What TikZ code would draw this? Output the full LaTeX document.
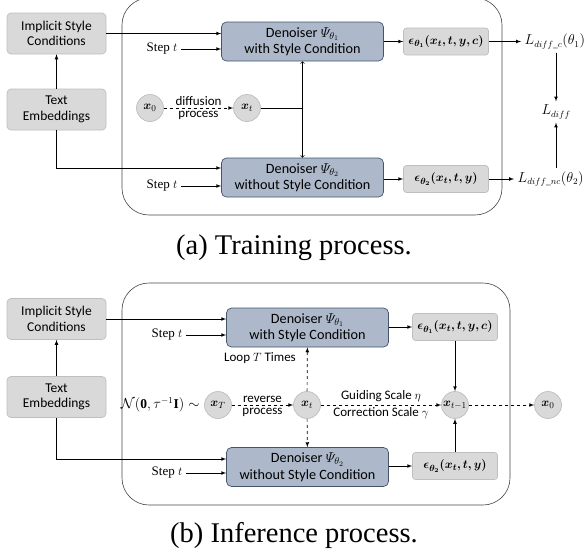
\documentclass[tikz,border=0pt]{standalone}
\usepackage{amsmath}
\usepackage{amssymb}
\usepackage{bm}
\usepackage{fontspec}
\setmainfont{Liberation Serif}
\newfontfamily\boxfont{Carlito}
\usetikzlibrary{positioning}
\usetikzlibrary{arrows}

\definecolor{denofill}{RGB}{173,185,202}
\definecolor{denoedge}{RGB}{68,84,106}
\definecolor{boxfill}{RGB}{217,217,217}
\definecolor{boxedge}{RGB}{191,191,191}
\definecolor{frameedge}{RGB}{70,70,70}

\begin{document}
\begin{tikzpicture}[x=1pt,y=-1pt,
		condbox/.style={
			draw=boxedge,
			fill=boxfill,
			rounded corners=4pt,
			align=center,
			minimum width=99pt,
			minimum height=41pt,
			font=\boxfont\fontsize{13.5}{15.5}\selectfont,
		},
		denoiser/.style={
			draw=denoedge,
			fill=denofill,
			rounded corners=5pt,
			align=center,
			minimum width=162pt,
			minimum height=39pt,
			inner sep=1pt,
			font=\boxfont\fontsize{14.2}{16.5}\selectfont,
		},
		epsbox/.style={
			draw=boxedge,
			fill=boxfill,
			rounded corners=3pt,
			minimum width=85pt,
			minimum height=27pt,
			font=\fontsize{12.5}{14}\selectfont,
		},
		state/.style={circle, draw=boxedge, fill=boxfill, minimum size=27pt, inner sep=0pt,
			font=\fontsize{12.5}{14}\selectfont},
		small/.style={font=\boxfont\fontsize{13}{14}\selectfont, inner sep=1pt},
		steplabel/.style={font=\fontsize{13}{15}\selectfont},
		losslabel/.style={font=\fontsize{13.5}{15}\selectfont},
		arr/.style={-latex, line width=0.7pt},
		panel/.style={draw=frameedge, line width=0.6pt, rounded corners=27pt},
		caption/.style={font=\fontsize{28.5}{32}\selectfont},
		line width=0.7pt]
		\useasboundingbox (0,0) rectangle (584,557);

		% (a) training
		\draw[panel] (122,-2) rectangle (502,215);
		\node[condbox] (a-isc) at (56.5,33.5) {Implicit Style\\Conditions};
		\node[condbox] (a-te) at (56.5,109.5) {Text\\Embeddings};
		\node[denoiser] (a-d1) at (302.5,41.5) {Denoiser $\varPsi_{\theta_1}$\\with Style Condition};
		\node[denoiser] (a-d2) at (302.5,177.5) {Denoiser $\varPsi_{\theta_2}$\\without Style Condition};
		\node[epsbox] (a-e1) at (446,41.5) {$\boldsymbol{\epsilon_{\theta_1}(x_t, t, y, c)}$};
		\node[epsbox] (a-e2) at (446,179) {$\boldsymbol{\epsilon_{\theta_2}(x_t, t, y)}$};
		\node[state] (a-x0) at (150,108) {$\bm{x}_0$};
		\node[state] (a-xt) at (247,108) {$\bm{x}_t$};
		\coordinate (a-j) at (302.5,108);
		\node[steplabel] (a-s1) at (162,49) {Step $t$};
		\node[steplabel] (a-s2) at (162,186) {Step $t$};
		\node[losslabel, anchor=west] (a-lc) at (521,41.5) {$L_{diff\_c}(\theta_1)$};
		\node[losslabel] (a-l) at (556,112) {$L_{diff}$};
		\node[losslabel, anchor=west] (a-lnc) at (514,179) {$L_{diff\_nc}(\theta_2)$};

		\draw[arr] (a-te) -- (a-isc);
		\draw[arr] (a-isc.east) -- ([yshift=8pt]a-d1.west);
		\draw[arr] (a-te.south) |- ([yshift=9.5pt]a-d2.west);
		\draw[arr] (a-s1) -- (a-s1 -| a-d1.west);
		\draw[arr] (a-s2) -- (a-s2 -| a-d2.west);
		\draw[arr, dashed] (a-x0) -- node[above=1.5pt, small]{diffusion} node[below=1.5pt, small]{process} (a-xt);
		\draw (a-xt) -- (a-j);
		\draw[to-to] (a-d1.south) -- (a-d2.north);
		\draw[arr] (a-d1) -- (a-e1);
		\draw[arr] (a-d2.east |- a-e2) -- (a-e2);
		\draw[arr] (a-e1) -- (a-lc);
		\draw[arr] (a-e2) -- (a-lnc);
		\draw[arr] (a-l |- a-lc.south) -- (a-l);
		\draw[arr] (a-l |- a-lnc.north) -- (a-l);

		\node[caption] (a-cap) at (294,248) {(a) Training process.};

		% (b) inference
		\draw[panel] (122,283) rectangle (510,505);
		\node[condbox] (b-isc) at (56.5,319) {Implicit Style\\Conditions};
		\node[condbox] (b-te) at (56.5,397) {Text\\Embeddings};
		\node[denoiser] (b-d1) at (307.5,327.5) {Denoiser $\varPsi_{\theta_1}$\\with Style Condition};
		\node[denoiser] (b-d2) at (307.5,467) {Denoiser $\varPsi_{\theta_2}$\\without Style Condition};
		\node[epsbox] (b-e1) at (455,327) {$\boldsymbol{\epsilon_{\theta_1}(x_t, t, y, c)}$};
		\node[epsbox] (b-e2) at (455,466) {$\boldsymbol{\epsilon_{\theta_2}(x_t, t, y)}$};
		\node[state] (b-xT) at (218,405) {$\bm{x}_T$};
		\node[state] (b-xt) at (307,405) {$\bm{x}_t$};
		\node[state] (b-xt1) at (455,405) {$\bm{x}_{t-1}$};
		\node[state] (b-x0) at (548,405) {$\bm{x}_0$};
		\node[losslabel, left=1pt of b-xT] (b-noise) {$\mathcal{N}(\mathbf{0},\tau^{-1}\mathbf{I})\sim$};
		\node[small] (b-loop) at (260,358) {Loop $T$ Times};
		\node[steplabel] (b-s1) at (167,335) {Step $t$};
		\node[steplabel] (b-s2) at (167,473) {Step $t$};

		\draw[arr] (b-te) -- (b-isc);
		\draw[arr] (b-isc.east) -- ([yshift=8.5pt]b-d1.west);
		\draw[arr] (b-te.south) |- ([yshift=8pt]b-d2.west);
		\draw[arr] (b-s1) -- (b-s1 -| b-d1.west);
		\draw[arr] (b-s2) -- (b-s2 -| b-d2.west);
		\draw[arr, dashed] (b-xT) -- node[above=1.5pt, small]{reverse} node[below=1.5pt, small]{process} (b-xt);
		\draw[arr, dashed] (b-xt) -- (b-d1);
		\draw[arr, dashed] (b-xt) -- (b-d2);
		\draw[arr, dashed] (b-xt) -- node[above=1.5pt, small]{Guiding Scale $\eta$} node[below=1.5pt, small]{Correction Scale $\gamma$} (b-xt1);
		\draw[arr, dashed] (b-xt1) -- (b-x0);
		\draw[arr] (b-d1.east |- b-e1) -- (b-e1);
		\draw[arr] (b-d2.east |- b-e2) -- (b-e2);
		\draw[arr] (b-e1) -- (b-xt1);
		\draw[arr] (b-e2) -- (b-xt1);

		\node[caption] (b-cap) at (294,535) {(b) Inference process.};
\end{tikzpicture}
\end{document}
